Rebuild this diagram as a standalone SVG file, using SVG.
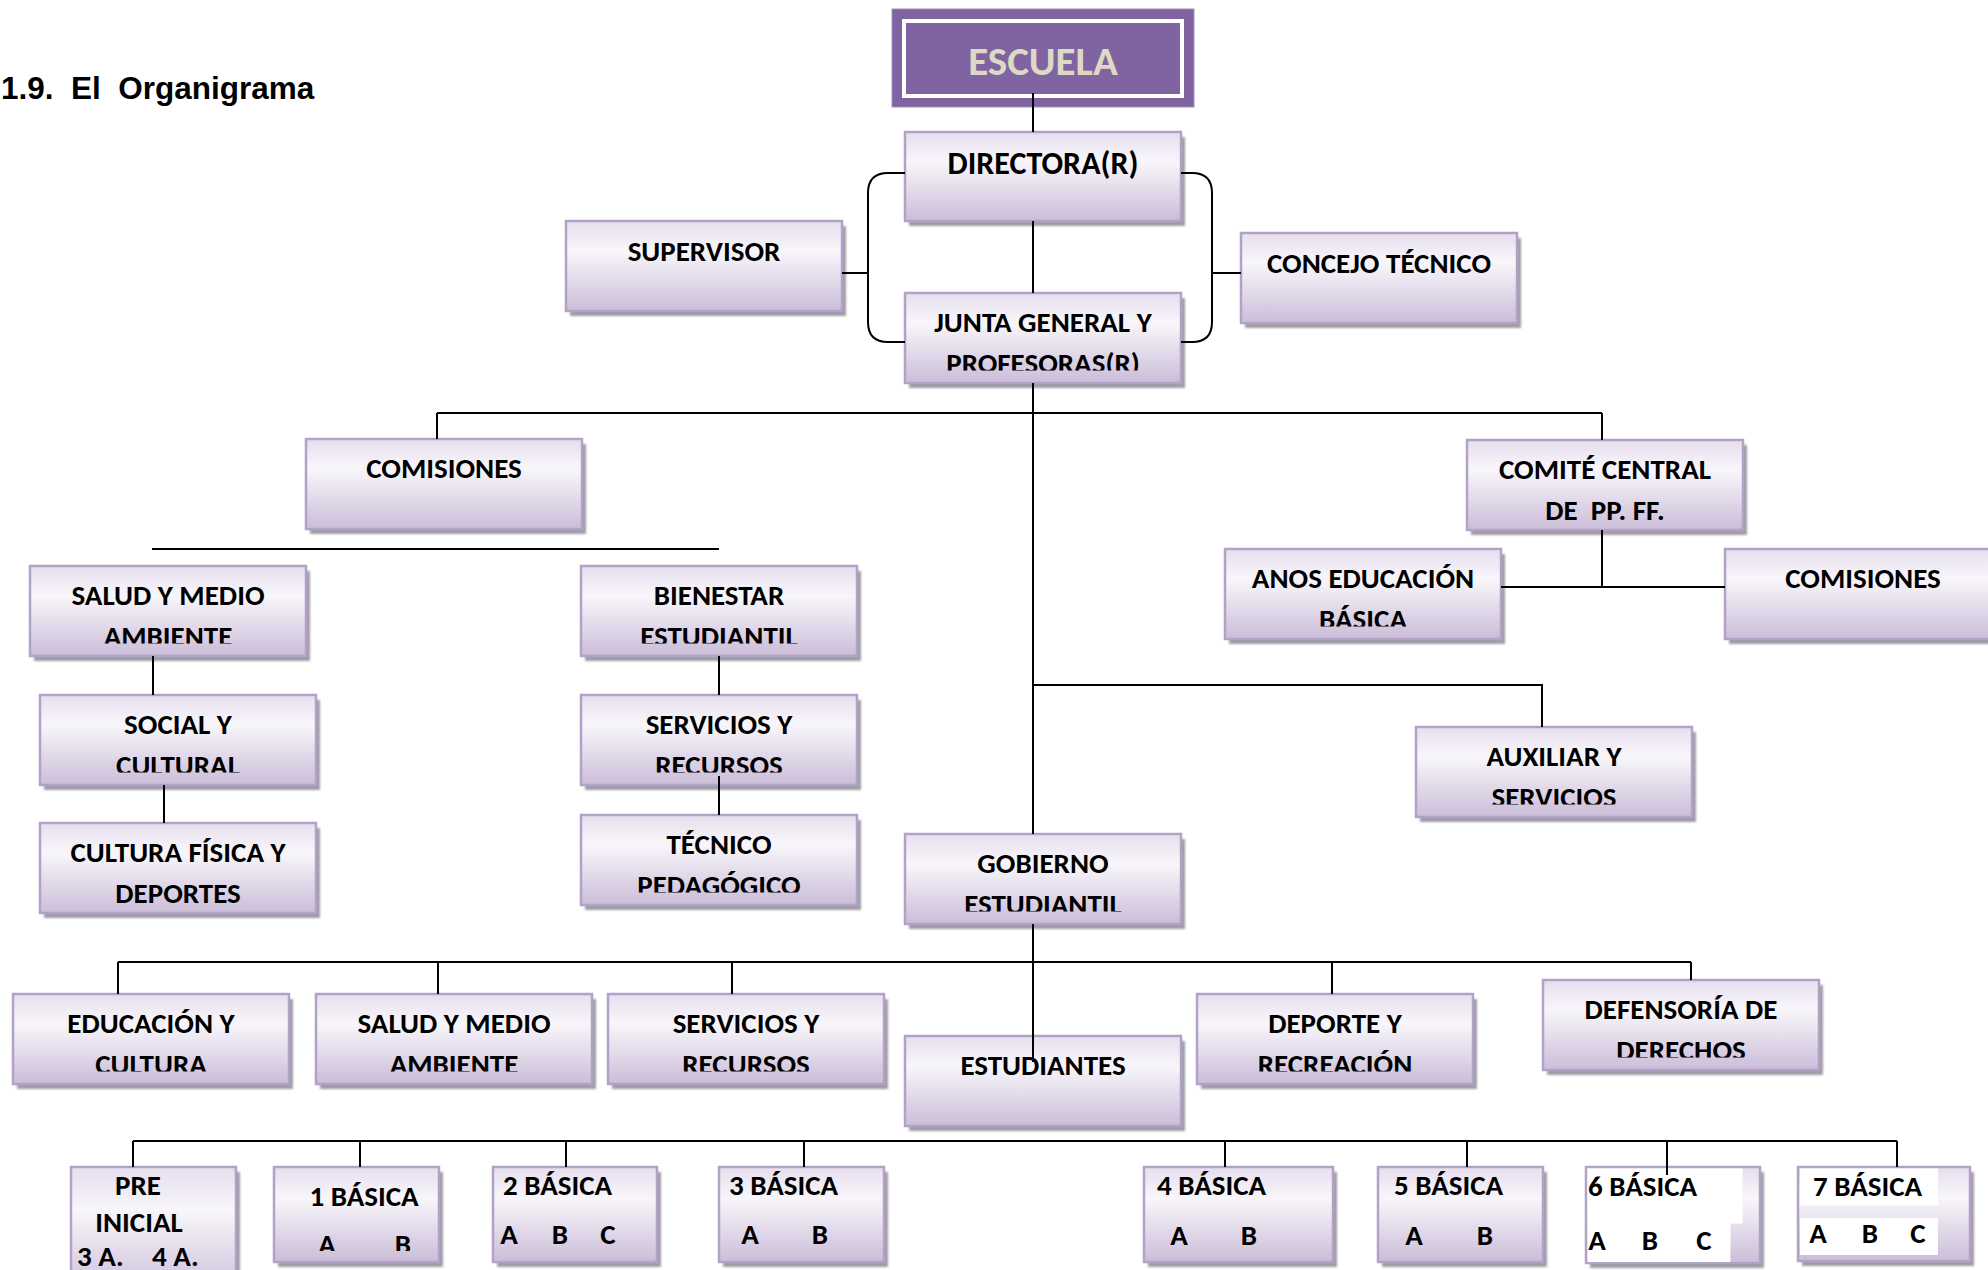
<svg xmlns="http://www.w3.org/2000/svg" width="1988" height="1270" viewBox="0 0 1988 1270">
<defs>
<linearGradient id="g" x1="0" y1="0" x2="0" y2="1">
<stop offset="0" stop-color="#E6DEEE"/>
<stop offset="0.33" stop-color="#F8F6FA"/>
<stop offset="1" stop-color="#CBBDD9"/>
</linearGradient>
<filter id="blur" x="-5%" y="-5%" width="110%" height="115%"><feGaussianBlur stdDeviation="1.2"/></filter>
<clipPath id="cl"><rect x="-20" y="0" width="330" height="77.5"/></clipPath>
<clipPath id="cl2"><rect x="-20" y="0" width="330" height="84"/></clipPath>
<style>
.box{fill:url(#g);stroke:#B3A2C7;stroke-width:2.5}
.sh{fill:#9F9BA6;filter:url(#blur)}
.wh{fill:#FFFFFF}
.t{font-family:Carlito,"Liberation Sans Narrow","Open Sans",sans-serif;font-weight:bold;font-size:29px;fill:#000;text-anchor:middle}
.s{text-anchor:start}
.c{stroke:#000;stroke-width:2;fill:none}
.title{font-family:"Liberation Sans",Arial,sans-serif;font-weight:bold;font-size:31.5px;fill:#000}
</style>
</defs>
<rect width="1988" height="1270" fill="#FFFFFF"/>
<text class="title" x="1" y="99" xml:space="preserve">1.9.  El  Organigrama</text>

<g id="escuela">
<rect x="892" y="9" width="302" height="98" fill="#8064A2" stroke="#A28FBE" stroke-width="1"/>
<rect x="904" y="21" width="278" height="75" fill="none" stroke="#FFFFFF" stroke-width="4"/>
<text class="t" x="1043" y="75" style="font-size:41px;fill:#DDD9C3">ESCUELA</text>
</g>

<g id="directora" transform="translate(905,132)">
<rect class="sh" x="4" y="5" width="276" height="89"/><rect class="box" width="276" height="89"/>
<text class="t" x="138" y="42" style="font-size:32px">DIRECTORA(R)</text>
</g>
<g id="supervisor" transform="translate(566,221)">
<rect class="sh" x="4" y="5" width="276" height="90"/><rect class="box" width="276" height="90"/>
<text class="t" x="138" y="40">SUPERVISOR</text>
</g>
<g id="concejo" transform="translate(1241,233)">
<rect class="sh" x="4" y="5" width="276" height="90"/><rect class="box" width="276" height="90"/>
<text class="t" x="138" y="40">CONCEJO TÉCNICO</text>
</g>
<g id="junta" transform="translate(905,293)">
<rect class="sh" x="4" y="5" width="276" height="90"/><rect class="box" width="276" height="90"/>
<text class="t" x="138" y="39">JUNTA GENERAL Y</text>
<text class="t" x="138" y="80" clip-path="url(#cl)">PROFESORAS(R)</text>
</g>
<g id="comisiones1" transform="translate(306,439)">
<rect class="sh" x="4" y="5" width="276" height="90"/><rect class="box" width="276" height="90"/>
<text class="t" x="138" y="39">COMISIONES</text>
</g>
<g id="comite" transform="translate(1467,440)">
<rect class="sh" x="4" y="5" width="276" height="90"/><rect class="box" width="276" height="90"/>
<text class="t" x="138" y="39">COMITÉ CENTRAL</text>
<text class="t" x="138" y="80" xml:space="preserve">DE  PP. FF.</text>
</g>
<g id="anos" transform="translate(1225,549)">
<rect class="sh" x="4" y="5" width="276" height="90"/><rect class="box" width="276" height="90"/>
<text class="t" x="138" y="39">ANOS EDUCACIÓN</text>
<text class="t" x="138" y="80" clip-path="url(#cl)">BÁSICA</text>
</g>
<g id="comisiones2" transform="translate(1725,549)">
<rect class="sh" x="4" y="5" width="276" height="90"/><rect class="box" width="276" height="90"/>
<text class="t" x="138" y="39">COMISIONES</text>
</g>
<g id="salud1" transform="translate(30,566)">
<rect class="sh" x="4" y="5" width="276" height="90"/><rect class="box" width="276" height="90"/>
<text class="t" x="138" y="39">SALUD Y MEDIO</text>
<text class="t" x="138" y="80" clip-path="url(#cl)">AMBIENTE</text>
</g>
<g id="social" transform="translate(40,695)">
<rect class="sh" x="4" y="5" width="276" height="90"/><rect class="box" width="276" height="90"/>
<text class="t" x="138" y="39">SOCIAL Y</text>
<text class="t" x="138" y="80" clip-path="url(#cl)">CULTURAL</text>
</g>
<g id="cultfis" transform="translate(40,823)">
<rect class="sh" x="4" y="5" width="276" height="90"/><rect class="box" width="276" height="90"/>
<text class="t" x="138" y="39">CULTURA FÍSICA Y</text>
<text class="t" x="138" y="80">DEPORTES</text>
</g>
<g id="bienestar" transform="translate(581,566)">
<rect class="sh" x="4" y="5" width="276" height="90"/><rect class="box" width="276" height="90"/>
<text class="t" x="138" y="39">BIENESTAR</text>
<text class="t" x="138" y="80" clip-path="url(#cl)">ESTUDIANTIL</text>
</g>
<g id="servicios1" transform="translate(581,695)">
<rect class="sh" x="4" y="5" width="276" height="90"/><rect class="box" width="276" height="90"/>
<text class="t" x="138" y="39">SERVICIOS Y</text>
<text class="t" x="138" y="80" clip-path="url(#cl)">RECURSOS</text>
</g>
<g id="tecnico" transform="translate(581,815)">
<rect class="sh" x="4" y="5" width="276" height="90"/><rect class="box" width="276" height="90"/>
<text class="t" x="138" y="39">TÉCNICO</text>
<text class="t" x="138" y="80" clip-path="url(#cl)">PEDAGÓGICO</text>
</g>
<g id="auxiliar" transform="translate(1416,727)">
<rect class="sh" x="4" y="5" width="276" height="90"/><rect class="box" width="276" height="90"/>
<text class="t" x="138" y="39">AUXILIAR Y</text>
<text class="t" x="138" y="80" clip-path="url(#cl)">SERVICIOS</text>
</g>
<g id="gobierno" transform="translate(905,834)">
<rect class="sh" x="4" y="5" width="276" height="90"/><rect class="box" width="276" height="90"/>
<text class="t" x="138" y="39">GOBIERNO</text>
<text class="t" x="138" y="80" clip-path="url(#cl)">ESTUDIANTIL</text>
</g>
<g id="educacion" transform="translate(13,994)">
<rect class="sh" x="4" y="5" width="276" height="90"/><rect class="box" width="276" height="90"/>
<text class="t" x="138" y="39">EDUCACIÓN Y</text>
<text class="t" x="138" y="80" clip-path="url(#cl)">CULTURA</text>
</g>
<g id="salud2" transform="translate(316,994)">
<rect class="sh" x="4" y="5" width="276" height="90"/><rect class="box" width="276" height="90"/>
<text class="t" x="138" y="39">SALUD Y MEDIO</text>
<text class="t" x="138" y="80" clip-path="url(#cl)">AMBIENTE</text>
</g>
<g id="servicios2" transform="translate(608,994)">
<rect class="sh" x="4" y="5" width="276" height="90"/><rect class="box" width="276" height="90"/>
<text class="t" x="138" y="39">SERVICIOS Y</text>
<text class="t" x="138" y="80" clip-path="url(#cl)">RECURSOS</text>
</g>
<g id="estudiantes" transform="translate(905,1036)">
<rect class="sh" x="4" y="5" width="276" height="90"/><rect class="box" width="276" height="90"/>
<text class="t" x="138" y="39">ESTUDIANTES</text>
</g>
<g id="deporte" transform="translate(1197,994)">
<rect class="sh" x="4" y="5" width="276" height="90"/><rect class="box" width="276" height="90"/>
<text class="t" x="138" y="39">DEPORTE Y</text>
<text class="t" x="138" y="80" clip-path="url(#cl)">RECREACIÓN</text>
</g>
<g id="defensoria" transform="translate(1543,980)">
<rect class="sh" x="4" y="5" width="276" height="90"/><rect class="box" width="276" height="90"/>
<text class="t" x="138" y="39">DEFENSORÍA DE</text>
<text class="t" x="138" y="80" clip-path="url(#cl)">DERECHOS</text>
</g>

<g id="pre" transform="translate(71,1167)">
<rect class="sh" x="4" y="5" width="165" height="130"/><rect class="box" width="165" height="130"/>
<text class="t" x="67" y="28">PRE</text>
<text class="t" x="68" y="65">INICIAL</text>
<text class="t s" x="6" y="99">3 A.</text>
<text class="t s" x="81" y="99">4 A.</text>
</g>
<g id="b1" transform="translate(274,1167)">
<rect class="sh" x="4" y="5" width="165" height="95"/><rect class="box" width="165" height="95"/>
<text class="t" x="90" y="39">1 BÁSICA</text>
<text class="t" x="53" y="87" clip-path="url(#cl2)">A</text>
<text class="t" x="129" y="87" clip-path="url(#cl2)">B</text>
</g>
<g id="b2" transform="translate(493,1167)">
<rect class="sh" x="4" y="5" width="164" height="95"/><rect class="box" width="164" height="95"/>
<text class="t s" x="10" y="28">2 BÁSICA</text>
<text class="t" x="16" y="77">A</text>
<text class="t" x="67" y="77">B</text>
<text class="t" x="115" y="77">C</text>
</g>
<g id="b3" transform="translate(719,1167)">
<rect class="sh" x="4" y="5" width="165" height="95"/><rect class="box" width="165" height="95"/>
<text class="t s" x="10" y="28">3 BÁSICA</text>
<text class="t" x="31" y="77">A</text>
<text class="t" x="101" y="77">B</text>
</g>
<g id="b4" transform="translate(1144,1167)">
<rect class="sh" x="4" y="5" width="189" height="95"/><rect class="box" width="189" height="95"/>
<text class="t s" x="13" y="28">4 BÁSICA</text>
<text class="t" x="35" y="78">A</text>
<text class="t" x="105" y="78">B</text>
</g>
<g id="b5" transform="translate(1378,1167)">
<rect class="sh" x="4" y="5" width="165" height="95"/><rect class="box" width="165" height="95"/>
<text class="t s" x="16" y="28">5 BÁSICA</text>
<text class="t" x="36" y="78">A</text>
<text class="t" x="107" y="78">B</text>
</g>
<g id="b6" transform="translate(1586,1167)">
<rect class="sh" x="4" y="5" width="174" height="96"/><rect class="box" width="174" height="96"/>
<rect class="wh" x="1.5" y="1.5" width="155" height="55"/>
<rect class="wh" x="1.5" y="56" width="143" height="39"/>
<text class="t s" x="2" y="29">6 BÁSICA</text>
<text class="t" x="11" y="83">A</text>
<text class="t" x="64" y="83">B</text>
<text class="t" x="118" y="83">C</text>
</g>
<g id="b7" transform="translate(1798,1167)">
<rect class="sh" x="4" y="5" width="172" height="94"/><rect class="box" width="172" height="94"/>
<rect class="wh" x="2" y="1.5" width="138" height="37"/>
<rect class="wh" x="2" y="51" width="138" height="37"/>
<text class="t s" x="15" y="29">7 BÁSICA</text>
<text class="t" x="20" y="76">A</text>
<text class="t" x="72" y="76">B</text>
<text class="t" x="120" y="76">C</text>
</g>

<g id="connectors" class="c">
<path class="c" d="M1033,93 V132 M1033,221 V293 M1033,383 V834 M1033,924 V1062"/>
<path class="c" d="M905,173 H888 Q868,173 868,193 V322 Q868,342 888,342 H905"/>
<path class="c" d="M1181,173 H1192 Q1212,173 1212,193 V322 Q1212,342 1192,342 H1181"/>
<path class="c" d="M842,273 H868 M1212,273 H1241"/>
<path class="c" d="M437,413 H1602 M437,413 V439 M1602,413 V440"/>
<path class="c" d="M152,549 H719"/>
<path class="c" d="M1602,530 V587 M1501,587 H1725"/>
<path class="c" d="M153,656 V695 M164,785 V823"/>
<path class="c" d="M719,656 V695 M719,776 V815"/>
<path class="c" d="M1033,685 H1542 V727"/>
<path class="c" d="M118,962 H1691 M118,962 V994 M438,962 V994 M732,962 V994 M1332,962 V994 M1691,962 V980"/>
<path class="c" d="M133,1141 H1897 M133,1141 V1167 M360,1141 V1167 M566,1141 V1167 M804,1141 V1167 M1225,1141 V1167 M1467,1141 V1167 M1667,1141 V1175 M1897,1141 V1167"/>
</g>
</svg>
